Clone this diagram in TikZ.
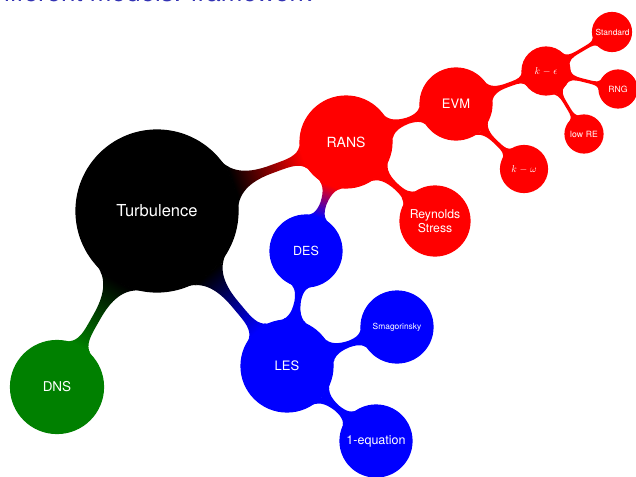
\documentclass[tikz,border=0pt]{standalone}
\usepackage{fontspec}
\setmainfont{TeX Gyre Heros}
\usetikzlibrary{mindmap}

\definecolor{titleblue}{RGB}{51,51,179}
\definecolor{dnsgreen}{RGB}{0,128,0}

\tikzset{
  bubble/.style 2 args={concept, circle, text=white, inner sep=0pt,
    minimum size=#1, text width=#1-6pt, align=center,
    font=\fontsize{#2}{14}\selectfont},
  link/.style 2 args={circle connection bar switch color=from (#1) to (#2)},
}

\begin{document}
\begin{tikzpicture}[x=1pt, y=-1pt]

\useasboundingbox (0,0) rectangle (636,476);

\node[anchor=base east, text=titleblue, font=\fontsize{26}{30}\selectfont] (title) at (315,1.5) {Different models: framework};

\begin{scope}[mindmap]
% centre
\node[bubble={162pt}{16.5}, concept color=black] (turb) at (157,211) {Turbulence};

% RANS side
\node[bubble={92pt}{14}, concept color=red] (rans) at (346,142) {RANS};
\node[bubble={72pt}{13}, concept color=red] (evm) at (456,104) {EVM};
\node[bubble={70pt}{12.2}, concept color=red] (reyn) at (435,221) {Reynolds\\Stress};
\node[bubble={48pt}{10}, concept color=red] (keps) at (546,71) {$k-\epsilon$};
\node[bubble={47pt}{10}, concept color=red] (komg) at (524,169) {$k-\omega$};
\node[bubble={39pt}{8.4}, concept color=red] (std) at (612,32) {Standard};
\node[bubble={38pt}{8.6}, concept color=red] (rng) at (618,89) {RNG};
\node[bubble={38pt}{8.6}, concept color=red] (lowre) at (584,134) {low RE};

% LES side
\node[bubble={92pt}{13}, concept color=blue] (les) at (287,366) {LES};
\node[bubble={72pt}{12.5}, concept color=blue] (des) at (306,251) {DES};
\node[bubble={72pt}{8.4}, concept color=blue] (smag) at (397,327) {Smagorinsky};
\node[bubble={72pt}{12.5}, concept color=blue] (oneq) at (376,441) {1-equation};

% DNS
\node[bubble={93pt}{13.5}, concept color=dnsgreen] (dns) at (57,387) {DNS};

\begin{scope}[line width=12pt]
\path (turb) to[link={black}{red}] (rans);
\path (turb) to[link={black}{blue}] (les);
\path (turb) to[link={black}{dnsgreen}] (dns);
\path (rans) to[link={red}{red}] (evm);
\path (rans) to[link={red}{red}] (reyn);
\path (rans) to[link={red}{blue}] (des);
\path (evm) to[link={red}{red}] (keps);
\path (evm) to[link={red}{red}] (komg);
\path (keps) to[link={red}{red}] (std);
\path (keps) to[link={red}{red}] (rng);
\path (keps) to[link={red}{red}] (lowre);
\path (les) to[link={blue}{blue}] (des);
\path (les) to[link={blue}{blue}] (smag);
\path (les) to[link={blue}{blue}] (oneq);
\end{scope}
\end{scope}

\end{tikzpicture}
\end{document}
